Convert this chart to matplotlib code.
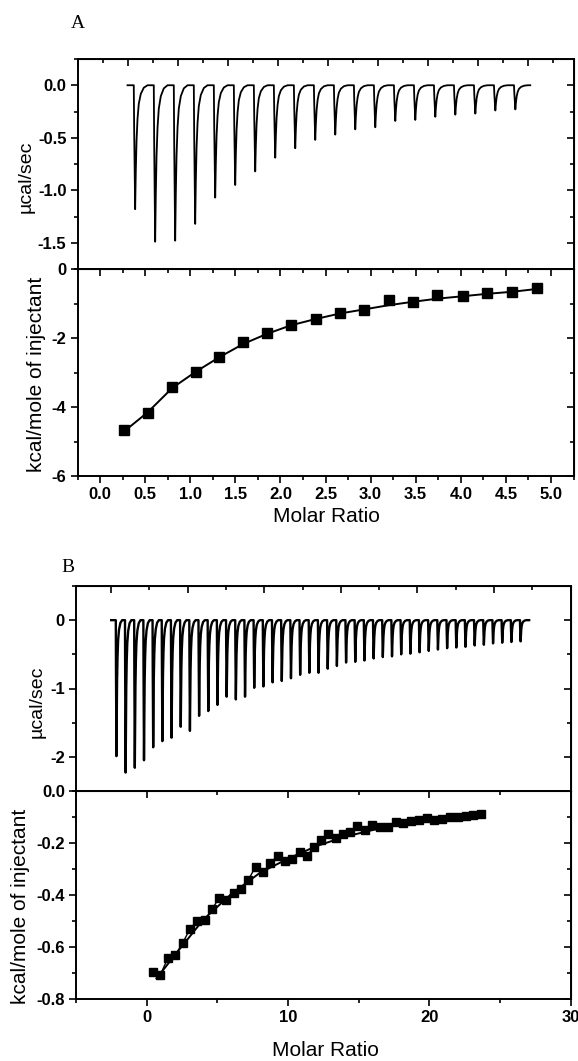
import matplotlib
matplotlib.use("Agg")
import matplotlib.pyplot as plt
from matplotlib.ticker import MultipleLocator, NullFormatter, FormatStrFormatter

plt.rcParams['font.family'] = ['Liberation Sans', 'DejaVu Sans']
plt.rcParams['font.weight'] = 'bold'
plt.rcParams['axes.unicode_minus'] = False

# ---- panel A: raw heat (injection time in min, peak height in ucal/sec)
a_inj_time = [2.5, 10.5, 18.5, 26.5, 34.5, 42.5, 50.5, 58.5, 66.5, 74.5,
              82.5, 90.5, 98.5, 106.5, 114.5, 122.5, 130.5, 138.5, 146.5, 154.5]
a_peak = [-1.18, -1.49, -1.48, -1.32, -1.07, -0.95, -0.82, -0.69, -0.60, -0.52,
          -0.47, -0.42, -0.40, -0.34, -0.33, -0.30, -0.28, -0.27, -0.24, -0.23]
a_run_end = 161

# ---- panel A: integrated heats
a_ratio = [0.27, 0.53, 0.80, 1.06, 1.32, 1.59, 1.85, 2.12, 2.39, 2.66,
           2.93, 3.20, 3.47, 3.74, 4.02, 4.29, 4.57, 4.84]
a_heat = [-4.68, -4.17, -3.43, -2.98, -2.56, -2.13, -1.86, -1.62, -1.45, -1.28,
          -1.19, -0.91, -0.95, -0.76, -0.77, -0.71, -0.67, -0.56]
a_fit = [-4.70, -4.15, -3.45, -2.98, -2.56, -2.17, -1.88, -1.63, -1.45, -1.29,
         -1.17, -1.05, -0.95, -0.86, -0.79, -0.72, -0.66, -0.58]

# ---- panel B: raw heat
b_inj_time = [3, 9, 15, 21, 27, 33, 39, 45, 51, 57, 63, 69, 75, 81, 87,
              93, 99, 105, 111, 117, 123, 129, 135, 141, 147, 153, 159, 165, 171, 177,
              183, 189, 195, 201, 207, 213, 219, 225, 231, 237, 243, 249, 255, 261, 267]
b_peak = [-1.99, -2.23, -2.16, -2.05, -1.86, -1.77, -1.72, -1.56, -1.62, -1.40,
          -1.33, -1.24, -1.12, -1.16, -1.12, -0.99, -0.97, -0.91, -0.89, -0.85,
          -0.80, -0.77, -0.77, -0.71, -0.67, -0.62, -0.61, -0.59, -0.56, -0.54,
          -0.53, -0.50, -0.49, -0.47, -0.45, -0.43, -0.41, -0.40, -0.39, -0.37,
          -0.36, -0.34, -0.33, -0.32, -0.31]
b_run_end = 273

# ---- panel B: integrated heats
b_ratio = [0.47, 0.98, 1.50, 2.02, 2.54, 3.06, 3.58, 4.10, 4.62, 5.13,
           5.65, 6.17, 6.69, 7.20, 7.72, 8.24, 8.76, 9.27, 9.78, 10.30,
           10.82, 11.33, 11.84, 12.36, 12.87, 13.38, 13.89, 14.40, 14.91, 15.42,
           15.97, 16.52, 17.07, 17.62, 18.17, 18.72, 19.27, 19.82, 20.37, 20.92,
           21.47, 22.02, 22.57, 23.12, 23.67]
b_heat = [-0.696, -0.705, -0.642, -0.630, -0.585, -0.530, -0.500, -0.497, -0.455, -0.410,
          -0.417, -0.392, -0.376, -0.341, -0.290, -0.312, -0.277, -0.248, -0.270, -0.262,
          -0.235, -0.251, -0.215, -0.187, -0.167, -0.181, -0.164, -0.158, -0.136, -0.149,
          -0.132, -0.138, -0.138, -0.119, -0.122, -0.115, -0.113, -0.103, -0.110, -0.106,
          -0.100, -0.100, -0.095, -0.093, -0.087]
b_fit_x = [0.7, 2, 4, 6, 8, 10, 12, 14, 16, 18, 20, 22, 23.7]
b_fit_y = [-0.72, -0.63, -0.495, -0.395, -0.315, -0.260, -0.212, -0.176, -0.150, -0.128,
           -0.113, -0.101, -0.093]

# shape of one injection peak (time offset for an 8 min spacing, fraction of height)
peak_dt = [0, 0.15, 0.55, 0.8, 1.1, 1.5, 2.0, 2.8, 4.0, 5.5]
peak_frac = [0, 0.35, 1.0, 0.7, 0.45, 0.27, 0.15, 0.07, 0.02, 0]


def thermogram(times, depths, end, spacing):
    t, y = [0.0], [0.0]
    k = spacing / 8.0
    for t0, d in zip(times, depths):
        for dt, f in zip(peak_dt, peak_frac):
            t.append(t0 + dt * k)
            y.append(d * f)
    t.append(end)
    y.append(0.0)
    return t, y


def style(ax, xmaj, xmin, ymaj, ymin, xfmt, yfmt, raw=False):
    ax.xaxis.set_major_locator(MultipleLocator(xmaj))
    ax.xaxis.set_minor_locator(MultipleLocator(xmin))
    ax.yaxis.set_major_locator(MultipleLocator(ymaj))
    ax.yaxis.set_minor_locator(MultipleLocator(ymin))
    ax.xaxis.set_major_formatter(FormatStrFormatter(xfmt))
    ax.yaxis.set_major_formatter(FormatStrFormatter(yfmt))
    ax.tick_params(which='both', direction='out', top=False, right=False,
                   width=1.2, labelsize=12, pad=3)
    ax.tick_params(which='major', length=5)
    ax.tick_params(which='minor', length=3)
    for s in ax.spines.values():
        s.set_linewidth(1.4)
    sy = ax.secondary_yaxis('right')
    sy.yaxis.set_major_locator(MultipleLocator(ymaj))
    sy.yaxis.set_minor_locator(MultipleLocator(ymin))
    sy.yaxis.set_major_formatter(NullFormatter())
    sy.tick_params(which='both', direction='in', width=1.2)
    sy.tick_params(which='major', length=5)
    sy.tick_params(which='minor', length=3)
    sx = ax.secondary_xaxis('top')
    sx.xaxis.set_major_locator(MultipleLocator(xmaj))
    sx.xaxis.set_minor_locator(MultipleLocator(xmin))
    sx.xaxis.set_major_formatter(NullFormatter())
    sx.tick_params(which='both', direction='in', width=1.2)
    sx.tick_params(which='major', length=5)
    sx.tick_params(which='minor', length=3)
    if raw:
        ax.tick_params(axis='x', which='both', bottom=False, labelbottom=False)


fig = plt.figure(figsize=(5.78, 10.61), dpi=100)

W, H = 578.0, 1061.0
ax_a1 = fig.add_axes([77.5 / W, 1 - 269 / H, 496 / W, 210 / H])
ax_a2 = fig.add_axes([77.5 / W, 1 - 476 / H, 496 / W, 207 / H])
ax_b1 = fig.add_axes([76 / W, 1 - 791 / H, 494.5 / W, 205 / H])
ax_b2 = fig.add_axes([76 / W, 1 - 999.3 / H, 494.5 / W, 208.3 / H])

# A raw
t, y = thermogram(a_inj_time, a_peak, a_run_end, 8)
ax_a1.plot(t, y, color='black', lw=1.3)
ax_a1.set_xlim(-20, 178.3)
ax_a1.set_ylim(-1.75, 0.25)
style(ax_a1, 20, 10, 0.5, 0.25, '%d', '%.1f', raw=True)
ax_a1.set_ylabel('µcal/sec', fontsize=14, fontweight='normal', va='center')
ax_a1.yaxis.set_label_coords(-0.104, 0.44)

# A isotherm
ax_a2.plot(a_ratio, a_fit, color='black', lw=1.4)
ax_a2.plot(a_ratio, a_heat, 's', color='black', ms=7)
ax_a2.set_xlim(-0.25, 5.25)
ax_a2.set_ylim(-6, 0)
style(ax_a2, 0.5, 0.25, 2, 1, '%.1f', '%d')
ax_a2.set_ylabel('kcal/mole of injectant', fontsize=15, fontweight='normal', va='center')
ax_a2.yaxis.set_label_coords(-0.082, 0.49)
ax_a2.set_xlabel('Molar Ratio', fontsize=15, fontweight='normal', va='center')
ax_a2.xaxis.set_label_coords(0.501, -0.197)

# B raw
t, y = thermogram(b_inj_time, b_peak, b_run_end, 6)
ax_b1.plot(t, y, color='black', lw=1.7)
ax_b1.set_xlim(-23, 300)
ax_b1.set_ylim(-2.5, 0.5)
style(ax_b1, 50, 25, 1, 0.5, '%d', '%d', raw=True)
ax_b1.set_ylabel('µcal/sec', fontsize=14, fontweight='normal', va='center')
ax_b1.yaxis.set_label_coords(-0.079, 0.434)

# B isotherm
ax_b2.plot(b_fit_x, b_fit_y, color='black', lw=1.4)
ax_b2.plot(b_ratio, b_heat, '-s', color='black', lw=1.0, ms=6)
ax_b2.set_xlim(-5, 30)
ax_b2.set_ylim(-0.8, 0)
style(ax_b2, 10, 5, 0.2, 0.1, '%d', '%.1f')
ax_b2.set_ylabel('kcal/mole of injectant', fontsize=15, fontweight='normal', va='center')
ax_b2.yaxis.set_label_coords(-0.113, 0.447)
ax_b2.set_xlabel('Molar Ratio', fontsize=15, fontweight='normal', va='center')
ax_b2.xaxis.set_label_coords(0.505, -0.244)

fig.text(78 / W, 1 - 24 / H, 'A', family=['Liberation Serif', 'DejaVu Serif'],
         fontsize=14, fontweight='normal', ha='center', va='center')
fig.text(68 / W, 1 - 567 / H, 'B', family=['Liberation Serif', 'DejaVu Serif'],
         fontsize=14, fontweight='normal', ha='center', va='center')

fig.savefig('out.png', dpi=100, facecolor='white')
